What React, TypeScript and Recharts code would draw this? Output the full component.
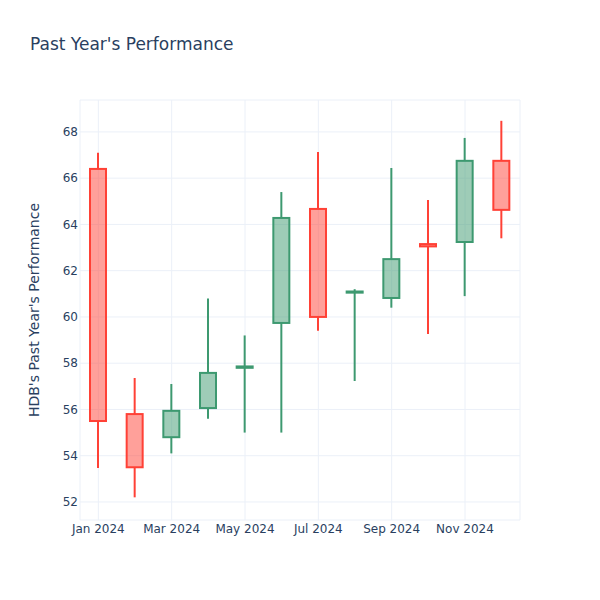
import React from "react";
import { ComposedChart, Bar, XAxis, YAxis, CartesianGrid } from "recharts";

const months = ["Jan 2024", "Feb 2024", "Mar 2024", "Apr 2024", "May 2024", "Jun 2024", "Jul 2024", "Aug 2024", "Sep 2024", "Oct 2024", "Nov 2024", "Dec 2024"];
const open = [66.4, 55.8, 54.8, 56.06, 57.8, 59.74, 64.67, 61.05, 60.82, 63.15, 63.24, 66.75];
const high = [67.1, 57.36, 57.1, 60.8, 59.2, 65.4, 67.13, 61.2, 66.44, 65.06, 67.74, 68.48];
const low = [53.47, 52.2, 54.1, 55.6, 55.0, 55.0, 59.4, 57.23, 60.4, 59.26, 60.9, 63.4];
const close = [55.5, 53.5, 55.94, 57.58, 57.86, 64.28, 60.0, 61.1, 62.5, 63.05, 66.75, 64.63];
const yTicks = [52, 54, 56, 58, 60, 62, 64, 66, 68];

const data = months.map((m, i) => ({
  month: m,
  open: open[i],
  high: high[i],
  low: low[i],
  close: close[i],
}));

const UP = "#3D9970";
const DOWN = "#FF4136";
const FONT = "'DejaVu Sans', sans-serif";

const Candle = (props: any) => {
  const { x, y, width, height, payload } = props;
  if (!payload) return null;
  const { open: o, high: h, low: l, close: c } = payload;
  const top = Math.min(y, y + height);
  const hgt = Math.abs(height);
  const k = hgt / (h - l);
  const yOf = (v: number) => top + (h - v) * k;
  const cx = x + width / 2;
  const color = c >= o ? UP : DOWN;
  const bTop = yOf(Math.max(o, c));
  const bBot = yOf(Math.min(o, c));
  const bw = 16;
  return (
    <g>
      <line x1={cx} x2={cx} y1={yOf(h)} y2={bTop} stroke={color} strokeWidth={2} />
      <line x1={cx} x2={cx} y1={bBot} y2={yOf(l)} stroke={color} strokeWidth={2} />
      <rect
        x={cx - bw / 2}
        y={bTop}
        width={bw}
        height={Math.max(bBot - bTop, 0.5)}
        fill={color}
        fillOpacity={0.5}
        stroke={color}
        strokeWidth={2}
      />
    </g>
  );
};

export default function App() {
  return (
    <div style={{ position: "absolute", left: 0, top: 0, width: 600, height: 600, background: "#fff" }}>
      <div
        style={{
          position: "absolute",
          left: 30,
          top: 32,
          fontFamily: FONT,
          fontSize: 17,
          color: "#2a3f5f",
          lineHeight: "24px",
        }}
      >
        Past Year's Performance
      </div>
      <ComposedChart width={600} height={600} data={data} margin={{ top: 100, right: 80, bottom: 50, left: 0 }}>
        <CartesianGrid stroke="#EBF0F8" strokeWidth={1} />
        <XAxis
          dataKey="month"
          interval={1}
          height={30}
          axisLine={false}
          tickLine={false}
          tickSize={0}
          tickMargin={4}
          tick={{ fill: "#2a3f5f", fontSize: 12, fontFamily: FONT }}
        />
        <YAxis
          type="number"
          domain={[51.22, 69.38]}
          ticks={yTicks}
          allowDataOverflow
          width={80}
          axisLine={false}
          tickLine={false}
          tickSize={0}
          tickMargin={2}
          tick={{ fill: "#2a3f5f", fontSize: 12, fontFamily: FONT }}
          label={{
            value: "HDB's Past Year's Performance",
            angle: -90,
            position: "insideLeft",
            offset: 34,
            style: { textAnchor: "middle", fill: "#2a3f5f", fontSize: 14, fontFamily: FONT },
          }}
        />
        <Bar dataKey={(d: any) => [d.low, d.high]} barSize={18} shape={Candle} isAnimationActive={false} />
      </ComposedChart>
    </div>
  );
}
